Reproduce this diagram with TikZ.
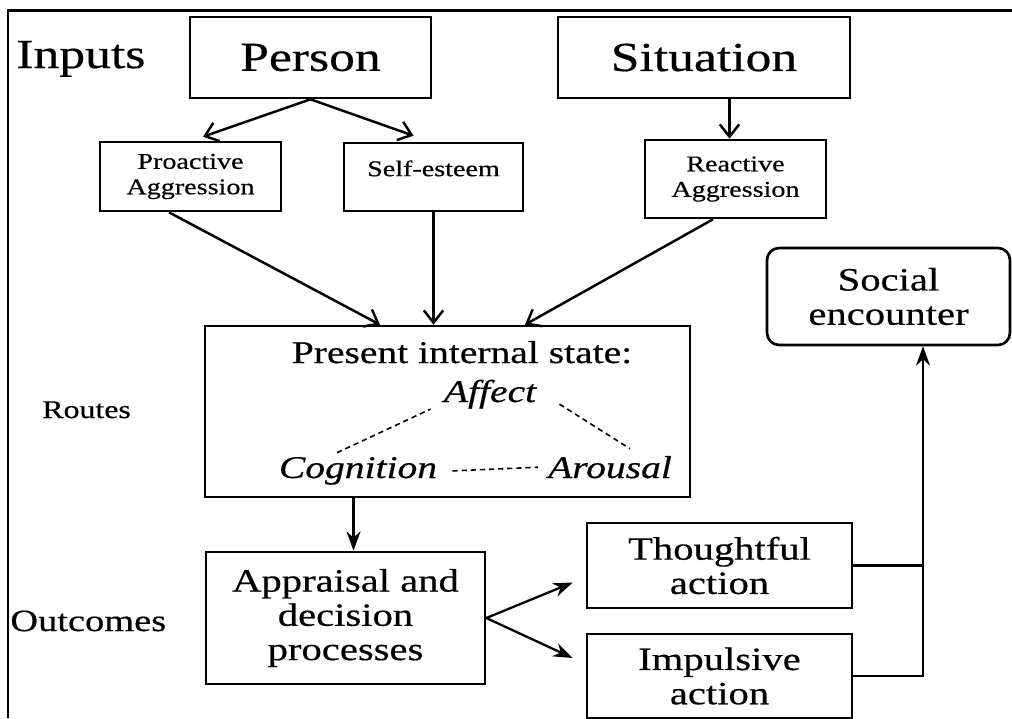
\documentclass[tikz,border=0pt]{standalone}
\usepackage{fontspec}
\setmainfont{Liberation Serif}[FakeStretch=1.25,FakeBold=0.5]
\usetikzlibrary{arrows.meta,calc}

\begin{document}
\begin{tikzpicture}[%
	x=0.02cm, y=-0.02cm,
	box/.style = {shape=rectangle, draw, line width=1.5pt, inner sep=0pt, align=center},
	big/.style = {font=\fontsize{23.5}{25}\selectfont},
	small/.style = {font=\fontsize{12.8}{14.5}\selectfont},
	mid/.style = {font=\fontsize{18.5}{19.5}\selectfont},
	part/.style = {inner sep=0pt, anchor=base, font=\fontsize{18}{20}\selectfont\itshape},
	side/.style = {inner sep=0pt, anchor=base west},
	barb/.style = {line width=1.4pt, -{Straight Barb[length=7pt,width=11pt]}},
	tri/.style = {line width=1.3pt, -{Stealth[length=11pt,width=8pt]}},
	link/.style = {line width=0.9pt, dash pattern=on 3pt off 2.2pt}
	]
  \useasboundingbox (0,0) rectangle (1012,718);
  \draw [line width=1.7pt] (8,718) |- (1012,10);
  \node [side, big] (inputs) at (16,68) {Inputs};
  \node [side, font=\fontsize{14.5}{16}\selectfont] (routes) at (42,418) {Routes};
  \node [side, font=\fontsize{17.5}{19}\selectfont] (outcomes) at (10,631) {Outcomes};
  \node [box, big, minimum width=4.82cm, minimum height=1.62cm] (person) at (310.5,57.5) {Person};
  \node [box, big, minimum width=5.84cm, minimum height=1.62cm] (situation) at (704,57.5) {Situation};
  \node [box, small, minimum width=3.62cm, minimum height=1.38cm] (proactive) at (190.5,176.5) {Proactive\\Aggression};
  \node [box, small, minimum width=3.58cm, minimum height=1.36cm, text depth=0.35cm] (selfesteem) at (433.5,177) {Self-esteem};
  \node [box, small, minimum width=3.62cm, minimum height=1.56cm] (reactive) at (735.5,179) {Reactive\\Aggression};
  \node [box, minimum width=9.7cm, minimum height=3.42cm] (present) at (447.5,411.5) {};
  \node [part, font=\fontsize{18}{20}\selectfont] (stitle) at (462,363) {Present internal state:};
  \node [part] (affect) at (490,402) {Affect};
  \node [part] (cognition) at (358,478) {Cognition};
  \node [part] (arousal) at (610,478) {Arousal};
  \node [box, mid, minimum width=5.58cm, minimum height=2.64cm] (appraisal) at (345.5,618) {Appraisal and\\decision\\processes};
  \node [box, mid, minimum width=5.3cm, minimum height=1.7cm] (thoughtful) at (719.5,565.5) {Thoughtful\\action};
  \node [box, mid, minimum width=5.3cm, minimum height=1.68cm] (impulsive) at (719.5,676) {Impulsive\\action};
  \node [box, mid, rounded corners=0.24cm, minimum width=4.86cm, minimum height=1.94cm] (social) at (888.5,296.5) {Social\\encounter};
  \coordinate (junc) at (923,0);

  \draw [barb] (person.south) -- ($(proactive.north)+(12.5,-4)$);
  \draw [barb] (person.south) -- ($(selfesteem.north)+(-20,-6)$);
  \draw [barb] ([xshift=-0.12cm]reactive.north |- situation.south) -- ([xshift=-0.12cm]reactive.north);
  \draw [barb] ([xshift=-0.43cm]proactive.south) -- ([xshift=-1.35cm]present.north);
  \draw [barb] (selfesteem.south) -- (selfesteem.south |- present.north);
  \draw [barb] ([xshift=-0.45cm]reactive.south) -- ([xshift=1.55cm]present.north);
  \draw [link] ($(cognition.north)+(-21,-4)$) -- ($(affect.south west)+(-13,0)$);
  \draw [link] ($(affect.south east)+(23,-5)$) -- ($(arousal.north)+(20,-7)$);
  \draw [link] ($(cognition.east)+(15,0)$) -- ($(arousal.west)+(-10,0)$);
  \draw [tri] ([xshift=0.16cm]appraisal.north |- present.south) -- ([xshift=0.16cm]appraisal.north);
  \draw [tri] (appraisal.east) -- ($(thoughtful.west)+(-13,17)$);
  \draw [tri] (appraisal.east) -- ($(impulsive.west)+(-13,-18)$);
  \draw [line width=1.3pt] (thoughtful.east) -- (thoughtful.east -| junc);
  \draw [line width=1.3pt] (impulsive.east) -- (impulsive.east -| junc);
  \draw [tri] ([yshift=-0.65pt]impulsive.east -| junc) -- (junc |- social.south);
\end{tikzpicture}
\end{document}
